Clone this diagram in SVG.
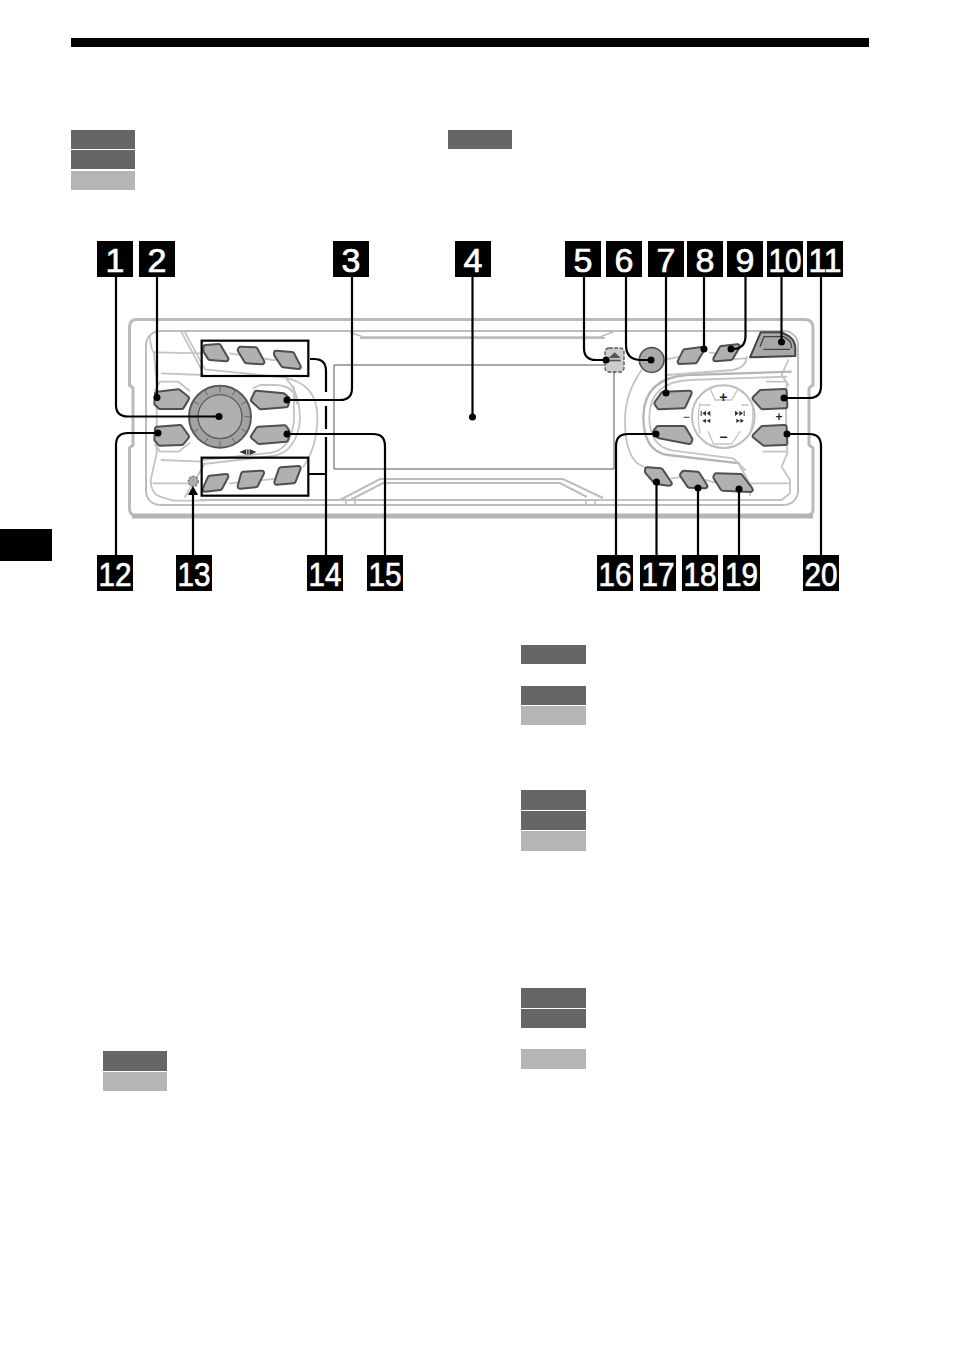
<svg xmlns="http://www.w3.org/2000/svg" width="954" height="1351" viewBox="0 0 954 1351">
<defs>
<g id="shapes-left">
<polygon points="52,222 115,215 140,235 125,260 60,260 50,250"/>
<polygon points="52,327 120,322 140,350 125,368 60,370 50,358"/>
<polygon points="350,219 430,227 441,237 438,255 363,261 340,240"/>
<polygon points="355,327 433,323 441,333 438,358 358,365 340,350"/>
<polygon points="197,82 236,79 258,117 210,113 197,92"/>
<polygon points="302,87 346,89 366,126 320,123 300,90"/>
<polygon points="409,99 456,103 475,140 430,135 409,103"/>
<polygon points="210,474 258,469 240,503 195,508"/>
<polygon points="310,462 365,459 347,495 300,499"/>
<polygon points="423,449 475,445 460,483 410,487"/>
</g>
<g id="shapes-right">
<polygon points="255,95 306,88 285,123 240,125"/>
<polygon points="365,85 412,80 392,113 347,117"/>
<polygon points="190,222 268,219 250,258 178,261 170,250"/>
<polygon points="175,325 250,325 270,358 268,365 178,348 167,335"/>
<polygon points="483,217 553,214 555,258 488,261 465,235"/>
<polygon points="488,325 553,322 555,368 493,370 465,348"/>
<polygon points="142,449 182,452 208,490 168,485 142,455"/>
<polygon points="252,459 292,462 315,498 268,496 247,465"/>
<polygon points="349,467 421,469 451,509 368,505 347,472"/>
</g>
</defs>
<style>
.dk{fill:#666}.lt{fill:#b5b5b5}
.p{fill:none;stroke:#bdbdbd;stroke-width:2}
.z{fill:none;stroke:#c4c4c4;stroke-width:5.500;stroke-linejoin:round;stroke-linecap:round}
.bo{fill:#4f4f4f;stroke:#4f4f4f;stroke-width:20;stroke-linejoin:round}
.bi{fill:#b0b0b0;stroke:#b0b0b0;stroke-width:8;stroke-linejoin:round}
.c{fill:none;stroke:#000;stroke-width:2.200}
.box{fill:none;stroke:#000;stroke-width:6.600}
.tick{stroke:#666;stroke-width:3}
.lb rect{fill:#000}
.lb text{fill:#fff;stroke:#fff;stroke-width:.7;font-family:"Liberation Sans",Arial,sans-serif;font-size:34px;text-anchor:middle}
.sym{font-family:"Liberation Sans",Arial,sans-serif;font-weight:bold;text-anchor:middle;fill:#222}
</style>
<rect x="71" y="38" width="798" height="9" fill="#000"/>
<rect x="0" y="529" width="52" height="32" fill="#000"/>
<g id="tabs">
<rect class="dk" x="71" y="130" width="64" height="19"/><rect class="dk" x="71" y="150" width="64" height="19"/><rect class="lt" x="71" y="171" width="64" height="19"/>
<rect class="dk" x="448" y="130" width="64" height="19"/>
<rect class="dk" x="521" y="645" width="65" height="19"/>
<rect class="dk" x="521" y="686" width="65" height="19"/><rect class="lt" x="521" y="706" width="65" height="19"/>
<rect class="dk" x="521" y="790" width="65" height="20"/><rect class="dk" x="521" y="811" width="65" height="19"/><rect class="lt" x="521" y="831" width="65" height="20"/>
<rect class="dk" x="521" y="988" width="65" height="20"/><rect class="dk" x="521" y="1009" width="65" height="19"/><rect class="lt" x="521" y="1049" width="65" height="20"/>
<rect class="dk" x="103" y="1051" width="64" height="20"/><rect class="lt" x="103" y="1072" width="64" height="19"/>
</g>
<g id="panel">
<path d="M136 319.500H805Q813 319.500 813 328V385L809 388V445L813 448V510Q813 515 806 515H136Q129.500 515 129.500 509V448L133 445V388L129.500 385V328Q129.500 319.500 136 319.500Z" fill="none" stroke="#bababa" stroke-width="3"/>
<path d="M132 516.500H813" stroke="#b5b5b5" stroke-width="4" fill="none"/>
<rect class="p" x="146" y="331" width="652" height="174" rx="14"/>
<path class="p" style="stroke-width:1.500" d="M350 332L363 337H600L613 332"/>
<path class="p" d="M360 338H605"/>
<path class="p" d="M340 500L380 479H563L603 498M350 500L383 483H560L587 497M200 500H760"/>
<path class="p" style="stroke-width:1.500" d="M346 500V505M355 500V505M586 500V505M595 500V505"/>
</g>
<g id="display"><path d="M614 365H334V469H614V372" fill="none" stroke="#555" stroke-width="1"/></g>
<g id="left-controls" transform="translate(140 320) scale(.33333)">
<path class="z" d="M45 97L185 100M125 37L185 150M135 37L195 148L430 172Q532 190 532 290Q532 380 490 440M65 160L190 165M440 178Q480 220 480 300Q470 395 400 408L190 432M462 200V300Q455 385 395 398L190 420M65 420L185 425M40 490L145 490M195 430L135 530M30 50Q30 80 42 100L50 190V400L32 480Q32 520 60 530L100 542H190M45 210L60 185H115L148 212M45 375L60 395H115L148 370M340 205L360 195H410Q470 200 470 250M270 100L400 120L470 115M270 490L420 475"/>
<g id="btn-dial">
<circle cx="240" cy="290" r="93" fill="#a2a2a2" stroke="#5a5a5a" stroke-width="6"/>
<circle cx="240" cy="290" r="66" fill="#b0b0b0" stroke="#5a5a5a" stroke-width="4"/>
<path class="tick" fill="none" d="M240 200V216M240 364V380M150 290H166M314 290H330M195 212L203 226M285 212L277 226M195 368L203 354M285 368L277 354M162 245L176 253M318 245L304 253M162 335L176 327M318 335L304 327"/>
</g>
<use href="#shapes-left" class="bo"/><use href="#shapes-left" class="bi"/>
<rect class="box" x="185" y="62" width="320" height="106"/>
<rect class="box" x="185" y="413" width="320" height="114"/>
<polygon points="298,396 318,388 318,404" fill="#333"/><polygon points="350,396 330,388 330,404" fill="#333"/><rect x="320" y="388" width="3.500" height="16" fill="#333"/><rect x="325" y="388" width="3.500" height="16" fill="#333"/>
<circle id="btn-13" cx="160" cy="484" r="15" fill="#aaa" stroke="#777" stroke-width="4" stroke-dasharray="7 4"/>
</g>
<g id="right-controls" transform="translate(600 320) scale(.33333)">
<path class="z" d="M125 150Q75 220 75 300Q75 420 130 440M200 118L240 110M330 98L345 100M345 120L440 115M565 120L545 165L565 195M560 190Q555 300 562 400L545 440L570 480V520L545 540H0M500 185H560M490 395H560M450 490H565M318 480L345 488M215 475L250 470"/>
<path d="M575 155L260 165Q132 175 130 290Q130 395 205 405L420 430" fill="none" stroke="#b5b5b5" stroke-width="7"/>
<path class="z" d="M560 170L270 180Q150 185 148 290Q148 380 220 392L400 415L435 450M440 110Q440 140 400 150L200 165M415 430L455 500L450 525"/>
<circle cx="155" cy="120" r="37" fill="#aaa" stroke="#555" stroke-width="5"/>
<use href="#shapes-right" class="bo"/><use href="#shapes-right" class="bi"/>
<path id="btn-10" d="M482 37H540Q586 50 586 85V108L450 112Z" fill="#a8a8a8" stroke="#444" stroke-width="6" stroke-linejoin="round"/>
<path d="M480 80L492 50H550Q575 60 575 85M490 88H570" fill="none" stroke="#444" stroke-width="4"/>
<circle cx="370" cy="290" r="94" fill="#fff" stroke="#bdbdbd" stroke-width="6"/>
<path class="z" style="stroke-width:4" d="M330 205L345 240H395L415 205M300 250Q290 290 300 340M455 245Q465 290 450 340M325 335L340 372H395L420 335M300 255H330M425 255H445"/>
<text class="sym" x="370" y="247" font-size="42">+</text>
<text class="sym" x="370" y="366" font-size="42">−</text>
<text class="sym" x="537" y="303" font-size="36">+</text>
<text class="sym" x="259" y="302" font-size="36" style="font-weight:normal">−</text>
<path fill="#333" d="M302 272h3v16h-3zM318 272v16l-11-8zM331 272v16l-11-8zM318 296v13l-11-6.500zM331 296v13l-11-6.500zM405 272v16l11-8zM418 272v16l11-8zM431 272h3v16h-3zM409 296v13l11-6.500zM421 296v13l11-6.500z"/>
<rect x="15" y="84" width="57" height="72" rx="12" fill="#ccc" stroke="#555" stroke-width="4" stroke-dasharray="11 5"/>
<polygon points="44,97 62,114 26,114" fill="#555"/><rect x="26" y="119" width="36" height="5" fill="#555"/>
</g>
<g id="connectors">
<path class="c" d="M116 277V405Q116 416.500 128 416.500H219"/>
<path class="c" d="M157 277V398"/>
<path class="c" d="M352 277V388Q352 400 340 400H287"/>
<path class="c" d="M472.500 277V417"/>
<path class="c" d="M584 277V348Q584 360 596 360H606"/>
<path class="c" d="M626 277V345Q626 360 641 360H651"/>
<path class="c" d="M666 277V393"/>
<path class="c" d="M704 277V349"/>
<path class="c" d="M745.500 277V336Q745.500 349 732 349H731"/>
<path class="c" d="M781.500 277V342"/>
<path class="c" d="M821 277V386Q821 398 809 398H784"/>
<path class="c" d="M116 555V445Q116 433 128 433H158"/>
<path class="c" d="M193 555V493"/>
<path class="c" d="M326 555V437M326 429V406M326 392V371Q326 359 314 359H310M308 474H326"/>
<path class="c" d="M385 555V446Q385 434 373 434H287"/>
<path class="c" d="M616 555V446Q616 434 628 434H656"/>
<path class="c" d="M656.500 555V482"/>
<path class="c" d="M698 555V488"/>
<path class="c" d="M739 555V489"/>
<path class="c" d="M821 555V446Q821 434 809 434H787"/>
<polygon points="193,486 188,495 198,495" fill="#000"/>
<g fill="#000"><circle cx="219" cy="416.500" r="3.500"/><circle cx="157" cy="397.500" r="3.500"/><circle cx="287" cy="400" r="3.500"/><circle cx="472.500" cy="417" r="3.500"/><circle cx="606" cy="360" r="3.500"/><circle cx="651" cy="360" r="3.500"/><circle cx="666" cy="393" r="3.500"/><circle cx="704" cy="349" r="3.500"/><circle cx="731" cy="349" r="3.500"/><circle cx="781.500" cy="342" r="3.500"/><circle cx="784" cy="398" r="3.500"/><circle cx="158" cy="433" r="3.500"/><circle cx="287" cy="434" r="3.500"/><circle cx="656" cy="434" r="3.500"/><circle cx="656.500" cy="482" r="3.500"/><circle cx="698" cy="488" r="3.500"/><circle cx="739" cy="489" r="3.500"/><circle cx="787" cy="434" r="3.500"/></g>
</g>
<g id="labels" class="lb">
<g id="n1"><rect x="97" y="241" width="36" height="36"/><text x="115" y="271.500">1</text></g>
<g id="n2"><rect x="139" y="241" width="36" height="36"/><text x="157" y="271.500">2</text></g>
<g id="n3"><rect x="333" y="241" width="36" height="36"/><text x="351" y="271.500">3</text></g>
<g id="n4"><rect x="455" y="241" width="36" height="36"/><text x="473" y="271.500">4</text></g>
<g id="n5"><rect x="565" y="241" width="36" height="36"/><text x="583" y="271.500">5</text></g>
<g id="n6"><rect x="606" y="241" width="36" height="36"/><text x="624" y="271.500">6</text></g>
<g id="n7"><rect x="648" y="241" width="36" height="36"/><text x="666" y="271.500">7</text></g>
<g id="n8"><rect x="687" y="241" width="36" height="36"/><text x="705" y="271.500">8</text></g>
<g id="n9"><rect x="727" y="241" width="36" height="36"/><text x="745" y="271.500">9</text></g>
<g id="n10"><rect x="767" y="241" width="36" height="36"/><text x="785" y="271.500" textLength="33" lengthAdjust="spacingAndGlyphs">10</text></g>
<g id="n11"><rect x="807" y="241" width="36" height="36"/><text x="825" y="271.500" textLength="33" lengthAdjust="spacingAndGlyphs">11</text></g>
<g id="n12"><rect x="97" y="555" width="36" height="36"/><text x="115" y="585.500" textLength="33" lengthAdjust="spacingAndGlyphs">12</text></g>
<g id="n13"><rect x="176" y="555" width="36" height="36"/><text x="194" y="585.500" textLength="33" lengthAdjust="spacingAndGlyphs">13</text></g>
<g id="n14"><rect x="307" y="555" width="36" height="36"/><text x="325" y="585.500" textLength="33" lengthAdjust="spacingAndGlyphs">14</text></g>
<g id="n15"><rect x="367" y="555" width="36" height="36"/><text x="385" y="585.500" textLength="33" lengthAdjust="spacingAndGlyphs">15</text></g>
<g id="n16"><rect x="597" y="555" width="36" height="36"/><text x="615" y="585.500" textLength="33" lengthAdjust="spacingAndGlyphs">16</text></g>
<g id="n17"><rect x="640" y="555" width="36" height="36"/><text x="658" y="585.500" textLength="33" lengthAdjust="spacingAndGlyphs">17</text></g>
<g id="n18"><rect x="682" y="555" width="36" height="36"/><text x="700" y="585.500" textLength="33" lengthAdjust="spacingAndGlyphs">18</text></g>
<g id="n19"><rect x="723" y="555" width="37" height="36"/><text x="741.500" y="585.500" textLength="33" lengthAdjust="spacingAndGlyphs">19</text></g>
<g id="n20"><rect x="803" y="555" width="36" height="36"/><text x="821" y="585.500" textLength="33" lengthAdjust="spacingAndGlyphs">20</text></g>
</g>
</svg>
